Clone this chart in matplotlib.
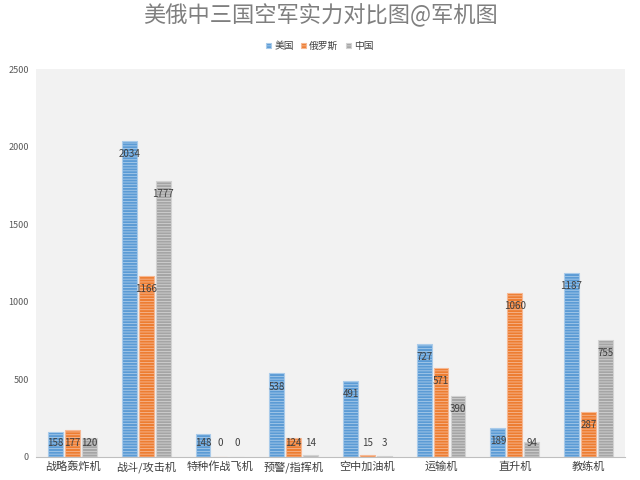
import numpy as np
import matplotlib.pyplot as plt

plt.rcParams['font.family'] = ['Noto Sans CJK SC', 'DejaVu Sans']
plt.rcParams['hatch.linewidth'] = 0.6

categories = ['战略轰炸机', '战斗/攻击机', '特种作战飞机', '预警/指挥机',
              '空中加油机', '运输机', '直升机', '教练机']
series_names = ['美国', '俄罗斯', '中国']
usa = [158, 2034, 148, 538, 491, 727, 189, 1187]
russia = [177, 1166, 0, 124, 15, 571, 1060, 287]
china = [120, 1777, 0, 14, 3, 390, 94, 755]
yticks = [0, 500, 1000, 1500, 2000, 2500]

colors = ['#5b9bd5', '#ed7d31', '#a5a5a5']
edges = ['#a9cbea', '#f6b893', '#d2d2d2']

fig = plt.figure(figsize=(6.4, 4.8), dpi=100)
ax = fig.add_axes([0.056, 0.048, 0.921, 0.808])
ax.set_facecolor('#f2f2f2')

x = np.arange(len(categories))
width = 0.2
step = 0.23
for i, (name, vals) in enumerate(zip(series_names, [usa, russia, china])):
    pos = x + (i - 1) * step
    ax.bar(pos, vals, width, color=colors[i], edgecolor=edges[i],
           linewidth=0.8, hatch='------', label=name)
    for px, v in zip(pos, vals):
        ax.text(px, max(v - 84, 90), str(v), ha='center', va='center',
                fontsize=7, color='#404040')

ax.set_xlim(-0.5, len(categories) - 0.5)
ax.set_ylim(0, 2500)
ax.set_yticks(yticks)
ax.set_xticks(x)
ax.set_xticklabels(categories, fontsize=8, color='#404040')
ax.tick_params(axis='y', labelsize=6.5, colors='#595959', length=0, pad=5)
ax.tick_params(axis='x', length=0, pad=3)
for s in ['top', 'right', 'left']:
    ax.spines[s].set_visible(False)
ax.spines['bottom'].set_color('#bfbfbf')

fig.text(0.5, 0.968, '美俄中三国空军实力对比图@军机图', ha='center',
         va='center', fontsize=16, color='#7f7f7f', fontweight='medium')
fig.legend(loc='center', bbox_to_anchor=(0.5, 0.904), ncol=3, frameon=False,
           fontsize=7, handlelength=0.5, handleheight=0.5, handletextpad=0.3,
           columnspacing=0.8, labelcolor='#404040')

fig.savefig('out.png', dpi=100)
